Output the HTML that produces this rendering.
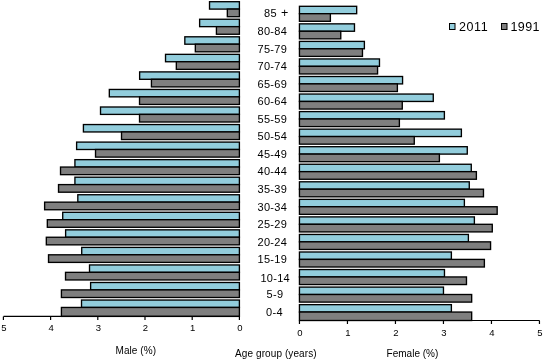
<!DOCTYPE html><html><head><meta charset="utf-8"><style>html,body{margin:0;padding:0;background:#fff;width:546px;height:361px;overflow:hidden}svg{display:block;will-change:transform}text{font-family:"Liberation Sans",sans-serif;fill:#000}</style></head><body>
<svg width="546" height="361" viewBox="0 0 546 361">
<g stroke="#000" stroke-width="1.35"><rect x="209.53" y="1.70" width="29.87" height="7.40" fill="#92CDDC"/><rect x="227.33" y="9.10" width="12.07" height="7.60" fill="#7F7F7F"/><rect x="299.45" y="6.30" width="57.22" height="7.40" fill="#92CDDC"/><rect x="299.45" y="13.70" width="30.93" height="7.60" fill="#7F7F7F"/><rect x="199.63" y="19.25" width="39.77" height="7.40" fill="#92CDDC"/><rect x="216.43" y="26.65" width="22.97" height="7.60" fill="#7F7F7F"/><rect x="299.45" y="23.85" width="55.02" height="7.40" fill="#92CDDC"/><rect x="299.45" y="31.25" width="41.32" height="7.60" fill="#7F7F7F"/><rect x="184.83" y="36.80" width="54.57" height="7.40" fill="#92CDDC"/><rect x="195.33" y="44.20" width="44.07" height="7.60" fill="#7F7F7F"/><rect x="299.45" y="41.40" width="64.93" height="7.40" fill="#92CDDC"/><rect x="299.45" y="48.80" width="63.02" height="7.60" fill="#7F7F7F"/><rect x="165.53" y="54.35" width="73.87" height="7.40" fill="#92CDDC"/><rect x="176.33" y="61.75" width="63.07" height="7.60" fill="#7F7F7F"/><rect x="299.45" y="58.95" width="80.02" height="7.40" fill="#92CDDC"/><rect x="299.45" y="66.35" width="78.12" height="7.60" fill="#7F7F7F"/><rect x="139.63" y="71.90" width="99.77" height="7.40" fill="#92CDDC"/><rect x="151.43" y="79.30" width="87.97" height="7.60" fill="#7F7F7F"/><rect x="299.45" y="76.50" width="103.12" height="7.40" fill="#92CDDC"/><rect x="299.45" y="83.90" width="97.93" height="7.60" fill="#7F7F7F"/><rect x="109.32" y="89.45" width="130.08" height="7.40" fill="#92CDDC"/><rect x="139.53" y="96.85" width="99.87" height="7.60" fill="#7F7F7F"/><rect x="299.45" y="94.05" width="133.82" height="7.40" fill="#92CDDC"/><rect x="299.45" y="101.45" width="102.82" height="7.60" fill="#7F7F7F"/><rect x="100.52" y="107.00" width="138.88" height="7.40" fill="#92CDDC"/><rect x="139.53" y="114.40" width="99.87" height="7.60" fill="#7F7F7F"/><rect x="299.45" y="111.60" width="144.93" height="7.40" fill="#92CDDC"/><rect x="299.45" y="119.00" width="99.93" height="7.60" fill="#7F7F7F"/><rect x="83.42" y="124.55" width="155.98" height="7.40" fill="#92CDDC"/><rect x="121.52" y="131.95" width="117.88" height="7.60" fill="#7F7F7F"/><rect x="299.45" y="129.15" width="161.93" height="7.40" fill="#92CDDC"/><rect x="299.45" y="136.55" width="114.82" height="7.60" fill="#7F7F7F"/><rect x="76.62" y="142.10" width="162.78" height="7.40" fill="#92CDDC"/><rect x="95.52" y="149.50" width="143.88" height="7.60" fill="#7F7F7F"/><rect x="299.45" y="146.70" width="167.82" height="7.40" fill="#92CDDC"/><rect x="299.45" y="154.10" width="139.93" height="7.60" fill="#7F7F7F"/><rect x="74.92" y="159.65" width="164.48" height="7.40" fill="#92CDDC"/><rect x="60.52" y="167.05" width="178.88" height="7.60" fill="#7F7F7F"/><rect x="299.45" y="164.25" width="171.82" height="7.40" fill="#92CDDC"/><rect x="299.45" y="171.65" width="176.93" height="7.60" fill="#7F7F7F"/><rect x="74.92" y="177.20" width="164.48" height="7.40" fill="#92CDDC"/><rect x="58.52" y="184.60" width="180.88" height="7.60" fill="#7F7F7F"/><rect x="299.45" y="181.80" width="169.82" height="7.40" fill="#92CDDC"/><rect x="299.45" y="189.20" width="184.02" height="7.60" fill="#7F7F7F"/><rect x="77.82" y="194.75" width="161.58" height="7.40" fill="#92CDDC"/><rect x="44.62" y="202.15" width="194.78" height="7.60" fill="#7F7F7F"/><rect x="299.45" y="199.35" width="164.93" height="7.40" fill="#92CDDC"/><rect x="299.45" y="206.75" width="197.72" height="7.60" fill="#7F7F7F"/><rect x="62.72" y="212.30" width="176.68" height="7.40" fill="#92CDDC"/><rect x="47.32" y="219.70" width="192.08" height="7.60" fill="#7F7F7F"/><rect x="299.45" y="216.90" width="174.93" height="7.40" fill="#92CDDC"/><rect x="299.45" y="224.30" width="192.82" height="7.60" fill="#7F7F7F"/><rect x="65.62" y="229.85" width="173.78" height="7.40" fill="#92CDDC"/><rect x="46.32" y="237.25" width="193.08" height="7.60" fill="#7F7F7F"/><rect x="299.45" y="234.45" width="168.93" height="7.40" fill="#92CDDC"/><rect x="299.45" y="241.85" width="191.12" height="7.60" fill="#7F7F7F"/><rect x="81.72" y="247.40" width="157.68" height="7.40" fill="#92CDDC"/><rect x="48.52" y="254.80" width="190.88" height="7.60" fill="#7F7F7F"/><rect x="299.45" y="252.00" width="151.93" height="7.40" fill="#92CDDC"/><rect x="299.45" y="259.40" width="184.93" height="7.60" fill="#7F7F7F"/><rect x="89.52" y="264.95" width="149.88" height="7.40" fill="#92CDDC"/><rect x="65.52" y="272.35" width="173.88" height="7.60" fill="#7F7F7F"/><rect x="299.45" y="269.55" width="145.02" height="7.40" fill="#92CDDC"/><rect x="299.45" y="276.95" width="167.02" height="7.60" fill="#7F7F7F"/><rect x="90.62" y="282.50" width="148.78" height="7.40" fill="#92CDDC"/><rect x="61.42" y="289.90" width="177.98" height="7.60" fill="#7F7F7F"/><rect x="299.45" y="287.10" width="144.02" height="7.40" fill="#92CDDC"/><rect x="299.45" y="294.50" width="172.22" height="7.60" fill="#7F7F7F"/><rect x="81.52" y="300.05" width="157.88" height="7.40" fill="#92CDDC"/><rect x="61.42" y="307.45" width="177.98" height="8.95" fill="#7F7F7F"/><rect x="299.45" y="304.65" width="151.93" height="7.40" fill="#92CDDC"/><rect x="299.45" y="312.05" width="172.22" height="8.45" fill="#7F7F7F"/></g>
<g stroke="#000" stroke-width="1.2" fill="none"><path d="M3.5 316.4 H239.4" /><path d="M239.40 316.4 V319.9" /><path d="M192.20 316.4 V319.9" /><path d="M145.00 316.4 V319.9" /><path d="M97.80 316.4 V319.9" /><path d="M50.60 316.4 V319.9" /><path d="M3.40 316.4 V319.9" /><path d="M299.45 320.5 H539.5" /><path d="M299.45 320.5 V324.0" /><path d="M347.45 320.5 V324.0" /><path d="M395.45 320.5 V324.0" /><path d="M443.45 320.5 V324.0" /><path d="M491.45 320.5 V324.0" /><path d="M539.45 320.5 V324.0" /></g>
<text x="239.90" y="331.4" font-size="9.5" text-anchor="middle">0</text><text x="299.95" y="336.4" font-size="9.5" text-anchor="middle">0</text><text x="192.70" y="331.4" font-size="9.5" text-anchor="middle">1</text><text x="347.95" y="336.4" font-size="9.5" text-anchor="middle">1</text><text x="145.50" y="331.4" font-size="9.5" text-anchor="middle">2</text><text x="395.95" y="336.4" font-size="9.5" text-anchor="middle">2</text><text x="98.30" y="331.4" font-size="9.5" text-anchor="middle">3</text><text x="443.95" y="336.4" font-size="9.5" text-anchor="middle">3</text><text x="51.10" y="331.4" font-size="9.5" text-anchor="middle">4</text><text x="491.95" y="336.4" font-size="9.5" text-anchor="middle">4</text><text x="3.90" y="331.4" font-size="9.5" text-anchor="middle">5</text><text x="539.95" y="336.4" font-size="9.5" text-anchor="middle">5</text>
<text x="264.10" y="16.80" font-size="11" letter-spacing="0.3">85 <tspan dx="0.8" dy="0.6" font-size="12.5">+</tspan></text><text x="257.50" y="35.05" font-size="11" letter-spacing="0.3">80-84</text><text x="257.50" y="52.60" font-size="11" letter-spacing="0.3">75-79</text><text x="257.50" y="70.15" font-size="11" letter-spacing="0.3">70-74</text><text x="257.50" y="87.70" font-size="11" letter-spacing="0.3">65-69</text><text x="257.50" y="105.25" font-size="11" letter-spacing="0.3">60-64</text><text x="257.50" y="122.80" font-size="11" letter-spacing="0.3">55-59</text><text x="257.50" y="140.35" font-size="11" letter-spacing="0.3">50-54</text><text x="257.50" y="157.90" font-size="11" letter-spacing="0.3">45-49</text><text x="257.50" y="175.45" font-size="11" letter-spacing="0.3">40-44</text><text x="257.50" y="193.00" font-size="11" letter-spacing="0.3">35-39</text><text x="257.50" y="210.55" font-size="11" letter-spacing="0.3">30-34</text><text x="257.50" y="228.10" font-size="11" letter-spacing="0.3">25-29</text><text x="257.50" y="245.65" font-size="11" letter-spacing="0.3">20-24</text><text x="257.50" y="263.20" font-size="11" letter-spacing="0.3">15-19</text><text x="260.40" y="281.55" font-size="11" letter-spacing="0.3">10-14</text><text x="266.60" y="298.30" font-size="11" letter-spacing="0.3">5-9</text><text x="266.10" y="315.85" font-size="11" letter-spacing="0.3">0-4</text>
<rect x="449.5" y="23.5" width="5.5" height="6" fill="#92CDDC" stroke="#000" stroke-width="1"/>
<text x="459" y="30.7" font-size="12.5" letter-spacing="0.6">2011</text>
<rect x="501.5" y="23.5" width="5.5" height="6" fill="#7F7F7F" stroke="#000" stroke-width="1"/>
<text x="510.5" y="30.7" font-size="12.5" letter-spacing="0.4">1991</text>
<text x="115.5" y="353.5" font-size="10" letter-spacing="0.08">Male (%)</text>
<text x="235" y="357" font-size="10" letter-spacing="0.1">Age group (years)</text>
<text x="386.5" y="357" font-size="10" letter-spacing="0.02">Female (%)</text>
</svg></body></html>
